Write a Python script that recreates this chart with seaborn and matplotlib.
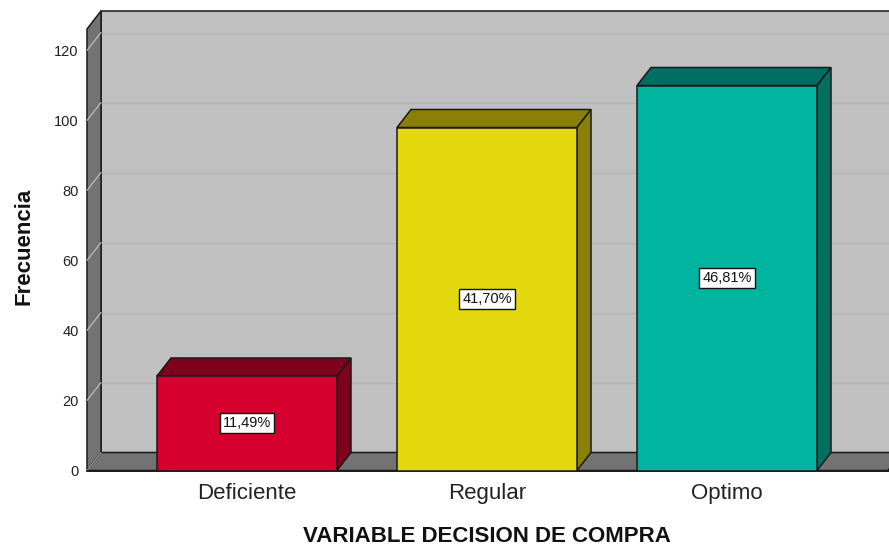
import pandas as pd
import matplotlib.pyplot as plt
import seaborn as sns

categorias = ['Deficiente', 'Regular', 'Optimo']
frecuencias = [27, 98, 110]
porcentajes = ['11,49%', '41,70%', '46,81%']
colores = ['#d5002d', '#e3d70d', '#00b4a0']
colores_oscuros = ['#7f001b', '#8a8006', '#006e60']
ticks_y = [0, 20, 40, 60, 80, 100, 120]

sns.set_theme(style='white')
plt.rcParams['font.family'] = ['Liberation Sans', 'DejaVu Sans']

W, H = 889, 547
fig = plt.figure(figsize=(W / 100, H / 100), dpi=100)
ax = fig.add_axes([87 / W, (H - 470.5) / H, (W - 87) / W, 459.5 / H])

df = pd.DataFrame({'cat': categorias, 'frec': frecuencias})
sns.barplot(data=df, x='cat', y='frec', hue='cat', palette=colores, saturation=1, width=0.75,
            edgecolor='#1a1a1a', linewidth=1.1, legend=False, zorder=5, ax=ax)

# escala: 240 px por categoria, 3.5 px por unidad
ax.set_xlim(-160 / 240, 642 / 240)
ax.set_ylim(0, 459.5 / 3.5)
x0, x1 = ax.get_xlim()
y1 = ax.get_ylim()[1]
dx = 14 / 240  # profundidad 3D
dy = 18 / 3.5
borde = '#1a1a1a'

# paredes
ax.fill([x0 + dx, x1 + dx, x1 + dx, x0 + dx], [dy, dy, y1, y1], fc='#c0c0c0', ec=borde, lw=1.1, zorder=1, clip_on=False)
ax.fill([x0, x0 + dx, x0 + dx, x0], [0, dy, y1, y1 - dy], fc='#737373', ec=borde, lw=1.1, zorder=2, clip_on=False)
ax.fill([x0, x0 + dx, x1 + dx, x1 - 0.005], [0, dy, dy, 0], fc='#737373', ec=borde, lw=1.1, zorder=2, clip_on=True)

# grid
for t in ticks_y[1:]:
    ax.plot([x0 + dx, x1 + dx], [t + dy, t + dy], color='#b5b5b5', lw=1.0, zorder=1.5)
    ax.plot([x0, x0 + dx], [t, t + dy], color='#c4c4c4', lw=0.8, zorder=2.5)
ax.plot([x0, x0 + dx], [0, dy], color='#a8a8a8', lw=0.8, zorder=2.5)
ax.plot([x0, x1], [0, 0], color=borde, lw=1.4, zorder=4, clip_on=False)

# caras superior y lateral de cada barra
for bar, oscuro, pct in zip(ax.patches, colores_oscuros, porcentajes):
    xa, w, h = bar.get_x(), bar.get_width(), bar.get_height()
    xb = xa + w
    ax.fill([xa, xa + dx, xb + dx, xb], [h, h + dy, h + dy, h], fc=oscuro, ec=borde, lw=1.1, zorder=4.5)
    ax.fill([xb, xb + dx, xb + dx, xb], [0, dy, h + dy, h], fc=oscuro, ec=borde, lw=1.1, zorder=4.5)
    ax.text(xa + w / 2, h / 2, pct, ha='center', va='center', fontsize=10.5, color='#111111', zorder=6,
            bbox=dict(boxstyle='square,pad=0.2', fc='white', ec='#111111', lw=1.0))

ax.set_yticks(ticks_y)
ax.tick_params(axis='y', length=0, pad=6, labelsize=10.5, labelcolor='#222222')
ax.tick_params(axis='x', length=0, pad=9, labelsize=16, labelcolor='#222222')
sns.despine(ax=ax, left=True, bottom=True, top=True, right=True)
ax.grid(False)
ax.set_facecolor('none')

ax.set_xlabel('')
ax.set_ylabel('')
fig.text(487 / W, 1 - 536.5 / H, 'VARIABLE DECISION DE COMPRA', ha='center', va='center',
         fontsize=16, fontweight='bold', color='#111111')
fig.text(24.5 / W, 1 - 246.5 / H, 'Frecuencia', ha='center', va='center', rotation=90,
         fontsize=16, fontweight='bold', color='#111111')

fig.savefig('out.png', dpi=100)
